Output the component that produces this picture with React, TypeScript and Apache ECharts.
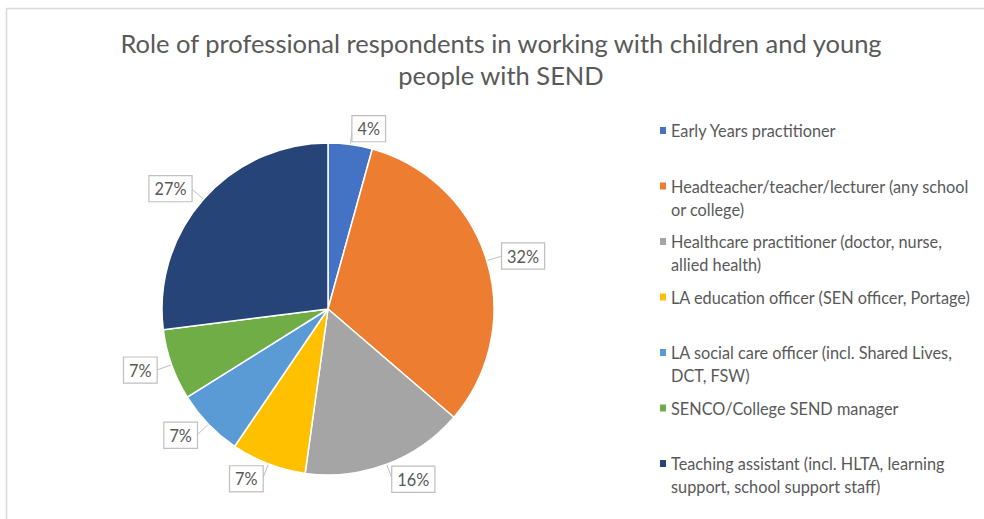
import React, { useEffect, useRef } from "react";
import * as echarts from "echarts";

const titleText = "Role of professional respondents in working with children and young\npeople with SEND";

const categories = [
  "Early Years practitioner",
  "Headteacher/teacher/lecturer (any school or college)",
  "Healthcare practitioner (doctor, nurse, allied health)",
  "LA education officer (SEN officer, Portage)",
  "LA social care officer (incl. Shared Lives, DCT, FSW)",
  "SENCO/College SEND manager",
  "Teaching assistant (incl. HLTA, learning support, school support staff)",
];

const shares = [4.3, 32.0, 15.9, 7.3, 6.6, 6.9, 27.0];

const colors = ["#4472C4", "#ED7D31", "#A5A5A5", "#FFC000", "#5B9BD5", "#70AD47", "#264478"];

const FONT = "Lato";
const LEG_SIZE = 16.3;
const LEG_W = 306;
const LEG_LH = 23;

function measure(text: string): number {
  const c = document.createElement("canvas").getContext("2d");
  if (!c) return 0;
  c.font = `${LEG_SIZE}px "${FONT}"`;
  return c.measureText(text).width;
}

export default function App() {
  const ref = useRef<HTMLDivElement>(null);

  useEffect(() => {
    if (!ref.current) return;
    const chart = echarts.init(ref.current, null, { renderer: "svg" });
    const data = categories.map((name, i) => ({
      name,
      value: shares[i],
      itemStyle: { color: colors[i] },
    }));
    chart.setOption({
      animation: false,
      backgroundColor: "#ffffff",
      textStyle: { fontFamily: FONT },
      graphic: [
        {
          type: "rect",
          shape: { x: 6.5, y: 8.5, width: 1100, height: 600 },
          style: { fill: "none", stroke: "#d9d9d9", lineWidth: 1.5 },
          silent: true,
        },
      ],
      title: {
        text: titleText,
        left: 501,
        top: 27,
        padding: 0,
        textAlign: "center",
        textStyle: {
          fontFamily: FONT,
          fontSize: 25.5,
          fontWeight: "normal",
          color: "#595959",
          lineHeight: 32,
        },
      },
      legend: {
        orient: "vertical",
        left: 660,
        top: 119,
        padding: 0,
        itemGap: 9.5,
        itemWidth: 6,
        itemHeight: 46,
        icon: "path://M0,8h6v7h-6zM0,0h0.01M0,46h0.01",
        itemStyle: { borderWidth: 0 },
        formatter: (name: string) => (measure(name) <= LEG_W ? name + "\n\u00a0" : name),
        textStyle: {
          fontFamily: FONT,
          fontSize: LEG_SIZE,
          color: "#595959",
          lineHeight: LEG_LH,
          width: LEG_W,
          overflow: "break",
        },
        data: categories,
      },
      series: [
        {
          type: "pie",
          center: [328, 309],
          radius: 166,
          startAngle: 90,
          clockwise: true,
          percentPrecision: 0,
          data,
          itemStyle: { borderColor: "#ffffff", borderWidth: 1.5 },
          label: {
            show: true,
            position: "outside",
            formatter: "{d}%",
            fontFamily: FONT,
            fontSize: 16.3,
            color: "#595959",
            backgroundColor: "#ffffff",
            borderColor: "#bfbfbf",
            borderWidth: 1.2,
            padding: [5, 5, 4, 5],
            distanceToLabelLine: 0,
          },
          labelLine: {
            show: true,
            length: 16,
            length2: 0,
            lineStyle: { color: "#bfbfbf", width: 1 },
          },
          emphasis: { disabled: true },
        },
      ],
    });
    return () => chart.dispose();
  }, []);

  return (
    <div
      ref={ref}
      style={{ position: "absolute", left: 0, top: 0, width: 984, height: 519 }}
    />
  );
}
